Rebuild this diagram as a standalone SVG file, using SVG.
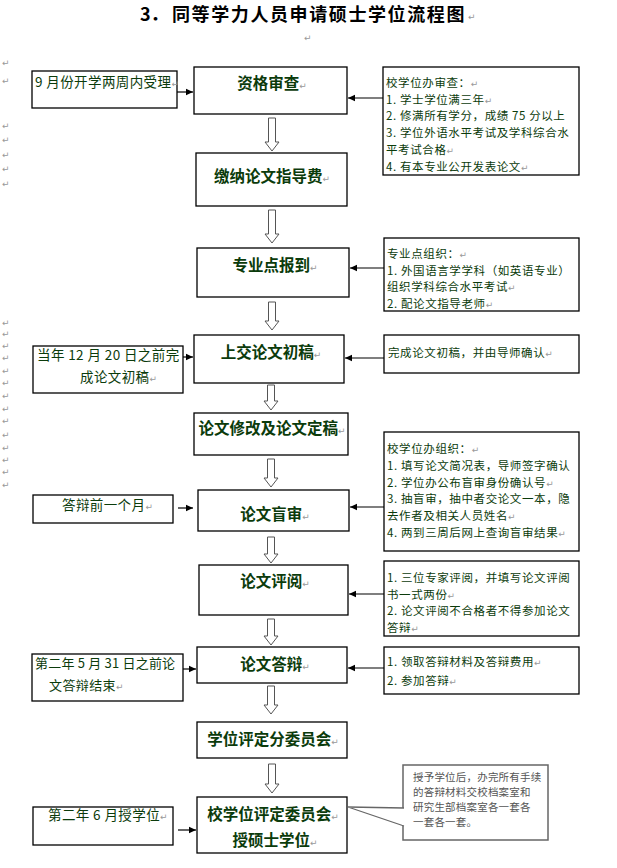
<svg xmlns="http://www.w3.org/2000/svg" width="617" height="868" viewBox="0 0 617 868">
<defs>
<style>
.bx{fill:#fff;stroke:#000;stroke-width:1.3}
.ha{fill:#fff;stroke:#555;stroke-width:1}
.cn{stroke:#000;stroke-width:1.2;fill:none}
.mt{font-family:"Noto Sans CJK SC","Liberation Sans",sans-serif;font-size:15.5px;font-weight:bold;fill:#0b3b0b;text-anchor:middle}
.st{font-family:"Noto Sans CJK SC","Liberation Sans",sans-serif;font-size:11.5px;letter-spacing:0.6px;fill:#0b3b0b}
.lt{font-family:"Noto Sans CJK SC","Liberation Sans",sans-serif;font-size:13.5px;letter-spacing:0.4px;fill:#0b3b0b}
.rm{font-family:"DejaVu Sans",sans-serif;font-size:9px;fill:#999;font-weight:normal;letter-spacing:0}
.ct{font-family:"Noto Sans CJK SC","Liberation Sans",sans-serif;font-size:10.5px;fill:#555;letter-spacing:0.2px}
</style>
<marker id="ah" markerWidth="8" markerHeight="8" refX="7" refY="4" orient="auto" markerUnits="userSpaceOnUse">
<path d="M0,0.8 L7,4 L0,7.2 Z" fill="#000"/>
</marker>
</defs>
<rect width="617" height="868" fill="#fff"/>

<g id="title">
<text x="140" y="21" font-family="Noto Sans CJK SC,Liberation Sans,sans-serif" font-size="18" font-weight="bold" fill="#000">3．</text>
<text x="172" y="21" font-family="Noto Sans CJK SC,Liberation Sans,sans-serif" font-size="18" font-weight="bold" fill="#000" letter-spacing="1.6">同等学力人员申请硕士学位流程图</text>
<text x="468" y="20" class="rm">↵</text>
<text x="304" y="41" class="rm">↵</text>
</g>

<g id="margin-marks" class="rm">
<text x="2" y="66">↵</text><text x="2" y="84">↵</text>
<text x="2" y="129">↵</text><text x="2" y="143">↵</text><text x="2" y="158">↵</text><text x="2" y="172">↵</text><text x="2" y="187">↵</text>
<text x="2" y="326">↵</text><text x="2" y="337">↵</text><text x="2" y="349">↵</text><text x="2" y="361">↵</text><text x="2" y="374">↵</text><text x="2" y="386">↵</text><text x="2" y="399">↵</text><text x="2" y="412">↵</text><text x="2" y="424">↵</text><text x="2" y="438">↵</text><text x="2" y="451">↵</text><text x="2" y="463">↵</text><text x="2" y="475">↵</text><text x="2" y="488">↵</text>
</g>

<g id="connectors">
<path class="ha" d="M268.5,118 H275.5 V142 H279 L272,151 L265,142 H268.5 Z"/>
<path class="ha" d="M268.5,210 H275.5 V234 H279 L272,243 L265,234 H268.5 Z"/>
<path class="ha" d="M268.5,302 H275.5 V321 H279 L272,330 L265,321 H268.5 Z"/>
<path class="ha" d="M267.5,385 H274.5 V401 H278 L271,410 L264,401 H267.5 Z"/>
<path class="ha" d="M267.5,459 H274.5 V478 H278 L271,487 L264,478 H267.5 Z"/>
<path class="ha" d="M267.5,537 H274.5 V554 H278 L271,563 L264,554 H267.5 Z"/>
<path class="ha" d="M267.5,619 H274.5 V636 H278 L271,645 L264,636 H267.5 Z"/>
<path class="ha" d="M267.5,686 H274.5 V705 H278 L271,714 L264,705 H267.5 Z"/>
<path class="ha" d="M268.5,764 H275.5 V784 H279 L272,793 L265,784 H268.5 Z"/>
<line class="cn" x1="177" y1="92" x2="193" y2="92" marker-end="url(#ah)"/>
<line class="cn" x1="183" y1="357" x2="193" y2="357" marker-end="url(#ah)"/>
<line class="cn" x1="178" y1="508" x2="193" y2="508" marker-end="url(#ah)"/>
<line class="cn" x1="183" y1="669" x2="196" y2="669" marker-end="url(#ah)"/>
<line class="cn" x1="178" y1="830" x2="196" y2="830" marker-end="url(#ah)"/>
<line class="cn" x1="383" y1="98" x2="348" y2="98" marker-end="url(#ah)"/>
<line class="cn" x1="384" y1="268" x2="350" y2="268" marker-end="url(#ah)"/>
<line class="cn" x1="384" y1="358" x2="345" y2="358" marker-end="url(#ah)"/>
<line class="cn" x1="384" y1="507" x2="350" y2="507" marker-end="url(#ah)"/>
<line class="cn" x1="384" y1="594" x2="349" y2="594" marker-end="url(#ah)"/>
<line class="cn" x1="384" y1="668" x2="348" y2="668" marker-end="url(#ah)"/>
</g>

<g id="n-zige"><rect class="bx" x="194" y="67" width="153" height="47"/><text class="mt" x="272" y="89">资格审查<tspan class="rm">↵</tspan></text></g>
<g id="n-jiaona"><rect class="bx" x="196" y="153" width="151" height="53"/><text class="mt" x="272" y="182">缴纳论文指导费<tspan class="rm">↵</tspan></text></g>
<g id="n-zhuanye"><rect class="bx" x="197" y="248" width="152" height="49"/><text class="mt" x="275" y="271">专业点报到<tspan class="rm">↵</tspan></text></g>
<g id="n-shangjiao"><rect class="bx" x="194" y="335" width="150" height="48"/><text class="mt" x="271" y="358">上交论文初稿<tspan class="rm">↵</tspan></text></g>
<g id="n-xiugai"><rect class="bx" x="194" y="413" width="154" height="42"/><text class="mt" x="272" y="434">论文修改及论文定稿<tspan class="rm">↵</tspan></text></g>
<g id="n-mangshen"><rect class="bx" x="198" y="490" width="151" height="41"/><text class="mt" x="275" y="520">论文盲审<tspan class="rm">↵</tspan></text></g>
<g id="n-pingyue"><rect class="bx" x="199" y="565" width="149" height="50"/><text class="mt" x="275" y="587">论文评阅<tspan class="rm">↵</tspan></text></g>
<g id="n-dabian"><rect class="bx" x="197" y="647" width="150" height="36"/><text class="mt" x="275" y="670">论文答辩<tspan class="rm">↵</tspan></text></g>
<g id="n-fenwei"><rect class="bx" x="197" y="722" width="150" height="36"/><text class="mt" x="273" y="745">学位评定分委员会<tspan class="rm">↵</tspan></text></g>
<g id="n-xiaowei"><rect class="bx" x="197" y="797" width="150" height="56"/><text class="mt" x="273" y="820">校学位评定委员会<tspan class="rm">↵</tspan></text><text class="mt" x="275" y="846">授硕士学位<tspan class="rm">↵</tspan></text></g>

<g id="l-1"><rect class="bx" x="32" y="71" width="145" height="37"/><text class="lt" x="35" y="87">9 月份开学两周内受理<tspan class="rm">↵</tspan></text></g>
<g id="l-2"><rect class="bx" x="33" y="346" width="150" height="47"/><text class="lt" x="37" y="360">当年 12 月 20 日之前完</text><text class="lt" x="80" y="382">成论文初稿<tspan class="rm">↵</tspan></text></g>
<g id="l-3"><rect class="bx" x="33" y="495" width="140" height="28"/><text class="lt" x="62" y="510">答辩前一个月<tspan class="rm">↵</tspan></text></g>
<g id="l-4"><rect class="bx" x="32" y="654" width="151" height="47"/><text class="lt" x="35" y="668" style="font-size:13px;letter-spacing:0.2px">第二年 5 月 31 日之前论</text><text class="lt" x="49" y="690" style="font-size:13px">文答辩结束<tspan class="rm">↵</tspan></text></g>
<g id="l-5"><rect class="bx" x="33" y="807" width="140" height="38"/><text class="lt" x="48" y="820">第二年 6 月授学位<tspan class="rm">↵</tspan></text></g>

<g id="r-1"><rect class="bx" x="383" y="67" width="196" height="108"/>
<text class="st" x="386" y="87">校学位办审查：<tspan class="rm">↵</tspan></text>
<text class="st" x="386" y="103.7">1.  学士学位满三年<tspan class="rm">↵</tspan></text>
<text class="st" x="386" y="120.4">2.  修满所有学分，成绩 75 分以上</text>
<text class="st" x="386" y="137.1">3. 学位外语水平考试及学科综合水</text>
<text class="st" x="386" y="153.8">平考试合格<tspan class="rm">↵</tspan></text>
<text class="st" x="386" y="170.5">4.  有本专业公开发表论文<tspan class="rm">↵</tspan></text>
</g>
<g id="r-2"><rect class="bx" x="384" y="238" width="195" height="73"/>
<text class="st" x="387" y="258">专业点组织：<tspan class="rm">↵</tspan></text>
<text class="st" x="387" y="274.5">1. 外国语言学学科（如英语专业）</text>
<text class="st" x="387" y="291">组织学科综合水平考试<tspan class="rm">↵</tspan></text>
<text class="st" x="387" y="307.5">2.  配论文指导老师<tspan class="rm">↵</tspan></text>
</g>
<g id="r-3"><rect class="bx" x="384" y="335" width="195" height="38"/>
<text class="st" x="388" y="357">完成论文初稿，并由导师确认<tspan class="rm">↵</tspan></text>
</g>
<g id="r-4"><rect class="bx" x="384" y="432" width="195" height="119"/>
<text class="st" x="387" y="453">校学位办组织：<tspan class="rm">↵</tspan></text>
<text class="st" x="387" y="469.8">1. 填写论文简况表，导师签字确认</text>
<text class="st" x="387" y="486.6">2.  学位办公布盲审身份确认号<tspan class="rm">↵</tspan></text>
<text class="st" x="387" y="503.4">3. 抽盲审，抽中者交论文一本，隐</text>
<text class="st" x="387" y="520.2">去作者及相关人员姓名<tspan class="rm">↵</tspan></text>
<text class="st" x="387" y="537">4.  两到三周后网上查询盲审结果<tspan class="rm">↵</tspan></text>
</g>
<g id="r-5"><rect class="bx" x="384" y="561" width="195" height="75"/>
<text class="st" x="387" y="582">1. 三位专家评阅，并填写论文评阅</text>
<text class="st" x="387" y="598.7">书一式两份<tspan class="rm">↵</tspan></text>
<text class="st" x="387" y="615.4">2. 论文评阅不合格者不得参加论文</text>
<text class="st" x="387" y="632">答辩<tspan class="rm">↵</tspan></text>
</g>
<g id="r-6"><rect class="bx" x="384" y="647" width="195" height="47"/>
<text class="st" x="387" y="666">1.  领取答辩材料及答辩费用<tspan class="rm">↵</tspan></text>
<text class="st" x="387" y="685">2.  参加答辩<tspan class="rm">↵</tspan></text>
</g>

<g id="callout">
<rect x="403" y="765" width="145" height="75" fill="#fff" stroke="#666" stroke-width="1.5"/>
<path d="M404,808 L348,807 L404,826" fill="#fff" stroke="#666" stroke-width="1.3"/>
<rect x="402" y="809" width="3" height="16" fill="#fff"/>
<text class="ct" x="413" y="781">授予学位后，办完所有手续</text>
<text class="ct" x="413" y="796">的答辩材料交校档案室和</text>
<text class="ct" x="413" y="811">研究生部档案室各一套各</text>
<text class="ct" x="413" y="826">一套各一套。</text>
</g>
</svg>
